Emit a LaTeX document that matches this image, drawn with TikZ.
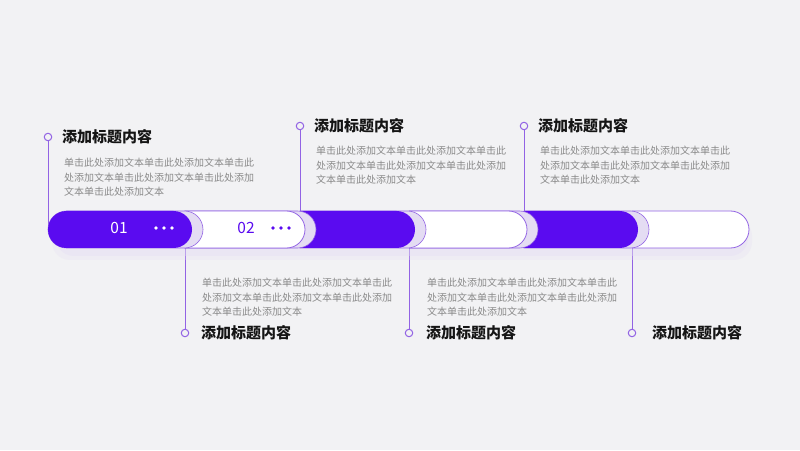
\documentclass[tikz,border=0pt]{standalone}
\usepackage{fontspec}
\setmainfont{Noto Sans CJK SC}
\usetikzlibrary{positioning}

\definecolor{bgGray}{HTML}{F2F2F4}
\definecolor{violetMain}{HTML}{5A0BF0}
\definecolor{violetLine}{HTML}{9263E4}
\definecolor{violetPale}{HTML}{E4DCF3}
\definecolor{textGray}{HTML}{8A8A8A}
\definecolor{titleBlack}{HTML}{151515}

\tikzset{
  pin/.style={circle, draw=violetLine, fill=bgGray, line width=1pt, inner sep=0pt, minimum size=7.5pt},
  stem/.style={draw=violetLine, line width=1pt},
  heading/.style={anchor=west, inner sep=0pt, text=titleBlack, font=\bfseries\fontsize{15}{17}\selectfont},
  bodytext/.style={anchor=north west, inner sep=0pt, align=left, text=textGray, font=\fontsize{10}{14.5}\selectfont},
  fullseg/.style={fill=violetMain},
  openseg/.style={fill=white, draw=violetLine, line width=0.8pt},
  segshade/.style={fill=violetPale, draw=violetLine, line width=0.6pt},
  numlabel/.style={inner sep=0pt, font=\fontsize{15.5}{17}\selectfont},
  bullet/.style={circle, inner sep=0pt, minimum size=3.8pt}
}

\begin{document}
\begin{tikzpicture}[x=1pt, y=1pt]

    % Canvas
    \fill[bgGray] (0,0) rectangle (800,450);
    \useasboundingbox (0,0) rectangle (800,450);

    % Pins and their anchor points on the bar
    \node[pin] (pinA) at (48,313) {};
    \node[pin] (pinB) at (185,117) {};
    \node[pin] (pinC) at (300,324) {};
    \node[pin] (pinD) at (409,117) {};
    \node[pin] (pinE) at (524,324) {};
    \node[pin] (pinF) at (632,117) {};
    \coordinate (barA) at (48,220);
    \coordinate (barB) at (185,202);
    \coordinate (barC) at (300,239);
    \coordinate (barD) at (409,202);
    \coordinate (barE) at (524,239);
    \coordinate (barF) at (632,202);

    % Stems
    \draw[stem] (pinA) -- (barA);
    \draw[stem] (pinB) -- (barB);
    \draw[stem] (pinC) -- (barC);
    \draw[stem] (pinD) -- (barD);
    \draw[stem] (pinE) -- (barE);
    \draw[stem] (pinF) -- (barF);

    % Soft glow under the bar
    \fill[violetPale, opacity=0.25, rounded corners=18pt] (52,190) rectangle (752,232);
    \fill[violetPale, opacity=0.35, rounded corners=18pt] (56,194) rectangle (748,230);

    % Segments, drawn from right to left
    \draw[openseg] (632,202) -- (632,239) -- (730.5,239) arc[start angle=90, end angle=-90, radius=18.5pt] -- cycle;
    \draw[segshade] (524,202) -- (524,239) -- (630.5,239) arc[start angle=90, end angle=-90, radius=18.5pt] -- cycle;
    \fill[fullseg] (524,202) -- (524,239) -- (619.5,239) arc[start angle=90, end angle=-90, radius=18.5pt] -- cycle;
    \draw[segshade] (409,202) -- (409,239) -- (519.5,239) arc[start angle=90, end angle=-90, radius=18.5pt] -- cycle;
    \draw[openseg] (409,202) -- (409,239) -- (508.5,239) arc[start angle=90, end angle=-90, radius=18.5pt] -- cycle;
    \draw[segshade] (300,202) -- (300,239) -- (407.5,239) arc[start angle=90, end angle=-90, radius=18.5pt] -- cycle;
    \fill[fullseg] (300,202) -- (300,239) -- (396.5,239) arc[start angle=90, end angle=-90, radius=18.5pt] -- cycle;
    \draw[segshade] (185,202) -- (185,239) -- (297.5,239) arc[start angle=90, end angle=-90, radius=18.5pt] -- cycle;
    \draw[openseg] (185,202) -- (185,239) -- (286.5,239) arc[start angle=90, end angle=-90, radius=18.5pt] -- cycle;
    \draw[segshade] (66.5,202) arc[start angle=-90, end angle=-270, radius=18.5pt] -- (184.5,239) arc[start angle=90, end angle=-90, radius=18.5pt] -- cycle;
    \fill[fullseg] (66.5,202) arc[start angle=-90, end angle=-270, radius=18.5pt] -- (173.5,239) arc[start angle=90, end angle=-90, radius=18.5pt] -- cycle;

    % Step numbers and dots
    \node[numlabel, text=white] (numA) at (119,222) {01};
    \node[bullet, fill=white] (dotA1) at (156,222) {};
    \node[bullet, fill=white] (dotA2) at (164,222) {};
    \node[bullet, fill=white] (dotA3) at (172,222) {};
    \node[numlabel, text=violetMain] (numB) at (246,222) {02};
    \node[bullet, fill=violetMain] (dotB1) at (273,222) {};
    \node[bullet, fill=violetMain] (dotB2) at (281,222) {};
    \node[bullet, fill=violetMain] (dotB3) at (289,222) {};

    % Headings
    \node[heading] (headA) at (62,313) {添加标题内容};
    \node[heading] (headB) at (201,117) {添加标题内容};
    \node[heading] (headC) at (314,324) {添加标题内容};
    \node[heading] (headD) at (426,117) {添加标题内容};
    \node[heading] (headE) at (538,324) {添加标题内容};
    \node[heading] (headF) at (652,117) {添加标题内容};

    % Body texts
    \node[bodytext] (textA) at (64,292) {单击此处添加文本单击此处添加文本单击此\\处添加文本单击此处添加文本单击此处添加\\文本单击此处添加文本};
    \node[bodytext] (textB) at (202,172) {单击此处添加文本单击此处添加文本单击此\\处添加文本单击此处添加文本单击此处添加\\文本单击此处添加文本};
    \node[bodytext] (textC) at (316,304) {单击此处添加文本单击此处添加文本单击此\\处添加文本单击此处添加文本单击此处添加\\文本单击此处添加文本};
    \node[bodytext] (textD) at (427,172) {单击此处添加文本单击此处添加文本单击此\\处添加文本单击此处添加文本单击此处添加\\文本单击此处添加文本};
    \node[bodytext] (textE) at (540,304) {单击此处添加文本单击此处添加文本单击此\\处添加文本单击此处添加文本单击此处添加\\文本单击此处添加文本};

\end{tikzpicture}
\end{document}
